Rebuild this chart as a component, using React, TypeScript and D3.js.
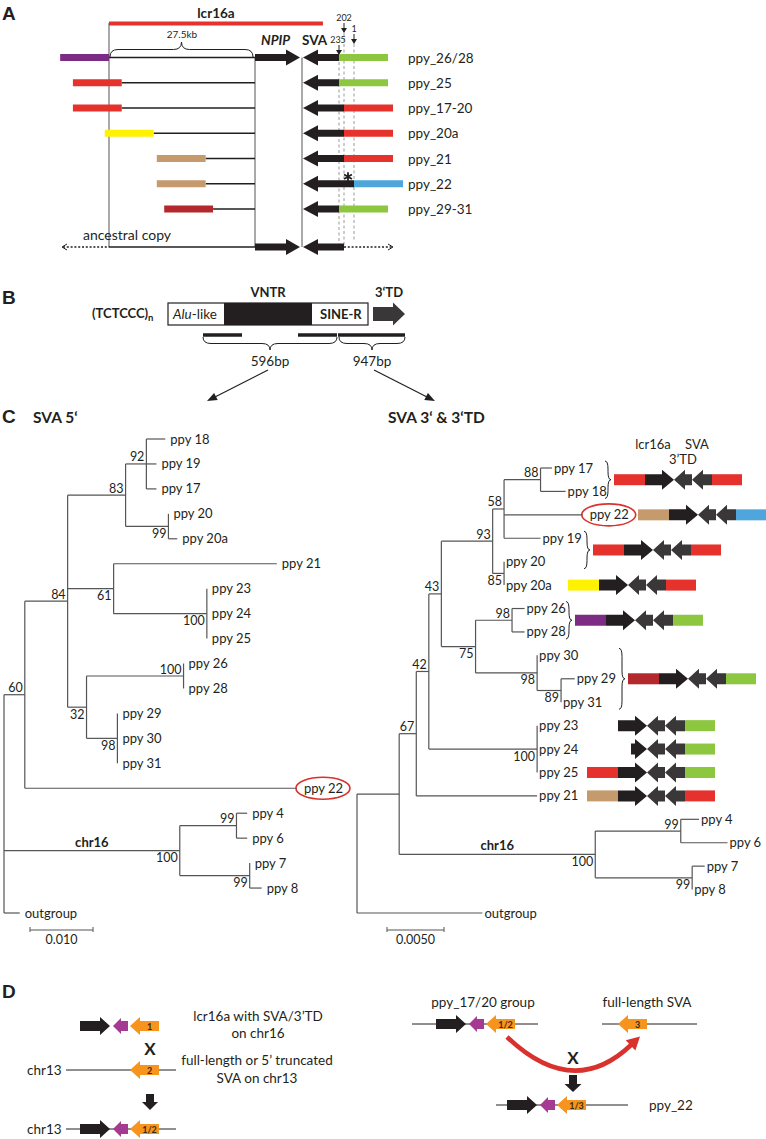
import React from 'react';
import * as d3 from 'd3';

const FONT = "Lato, 'Open Sans', sans-serif";
const LETTER_FONT = "'Liberation Sans', Arial, sans-serif";

const COLORS: Record<string, string> = {
  purple: '#7d2c85', red: '#e5322d', yellow: '#fff200', tan: '#c59b6d',
  darkred: '#b3282d', green: '#8dc63f', blue: '#4ea6dc',
};
const INK = '#231f20';
const INK2 = '#3a3738';
const MAGENTA = '#a43a91';
const ORANGE = '#f7941d';
const TREE = '#555555';
const HILITE = '#d9322e';

// ---------- Panel A data ----------
const rowLabelsA = ['ppy_26/28', 'ppy_25', 'ppy_17-20', 'ppy_20a', 'ppy_21', 'ppy_22', 'ppy_29-31'];
const flankColorsA = ['purple', 'red', 'red', 'yellow', 'tan', 'tan', 'darkred'];
const flankStartKbA = [-9.2, -6.8, -6.8, -0.8, 9.0, 9.0, 10.4];
const flankLenKbA = 9.2;
const breakpointsA = [235, 235, 202, 202, 202, 1, 235];
const tdColorsA = ['green', 'green', 'red', 'red', 'red', 'blue', 'green'];
const mutatedRowA = 'ppy_22';
const breakpointTicks = [235, 202, 1];
const lcrSpanKb = 40.3;
const npipStartKb = 27.5;

// ---------- Panel C data (trees, Newick with bootstrap supports) ----------
const leftNewick = [
  '(((((ppy 18:0.0030,ppy 19:0.0016,ppy 17:0.0016)92:0.0033,(ppy 20:0,ppy 20a:0.0014)99:0.0068)83:0.0092,',
  '(ppy 21:0.0259,(ppy 23:0,ppy 24:0,ppy 25:0)100:0.0148)61:0.0073,',
  '((ppy 26:0,ppy 28:0)100:0.0154,(ppy 29:0,ppy 30:0,ppy 31:0)98:0.0049)32:0.0030)84:0.0068,',
  'ppy 22:0.0432)60:0.0033,',
  '((ppy 4:0.0017,ppy 6:0.0017)99:0.0090,(ppy 7:0,ppy 8:0.0019)99:0.0111)100@chr16:0.0279,',
  'outgroup:0.0025);',
].join('');

const rightNewick = [
  '((((((((ppy 17:0.0010,ppy 18:0.0022)88:0.0032,ppy 22:0.0069,ppy 19:0.0032)58:0.0010,(ppy 20:0,ppy 20a:0)85:0.0010)93:0.0045,',
  '((ppy 26:0.0011,ppy 28:0.0011)98:0.0032,(ppy 30:0,(ppy 29:0.0012,ppy 31:0)89:0.0021)98:0.0054)75:0.0030)43:0.0011,',
  '(ppy 23:0,ppy 24:0,ppy 25:0)100:0.0095)42:0.0011,ppy 21:0.0106)67:0.0015,',
  '((ppy 4:0.0016,ppy 6:0.0041)99:0.0075,(ppy 7:0.0011,ppy 8:0)99:0.0085)100@chr16:0.0172):0.0037,',
  'outgroup:0.0110);',
].join('');

const highlightLeaf = 'ppy 22';
const leftScaleBar = 0.010;
const rightScaleBar = 0.0050;

// haplotype blocks next to the right tree
const blockGroups = [['ppy 17', 'ppy 18'], ['ppy 22'], ['ppy 19', 'ppy 20'], ['ppy 20a'], ['ppy 26', 'ppy 28'], ['ppy 30', 'ppy 31'], ['ppy 23'], ['ppy 24'], ['ppy 25'], ['ppy 21']];
const blockLeftColors = ['red', 'tan', 'red', 'yellow', 'purple', 'darkred', null, null, 'red', 'tan'];
const blockRightColors = ['red', 'blue', 'red', 'red', 'green', 'green', 'green', 'green', 'green', 'red'];
const blockShift = [27, 51, 6, -19, -12, 41, 0, 0, 0, 0];
const blockLcrTrunc = [0, 0, 0, 0, 0, 0, 0, 13, 0, 0];

// ---------- helpers ----------
type TNode = { name?: string; support?: string; clade?: string; len: number; children?: TNode[] };

function parseNewick(src: string): TNode {
  let i = 0;
  const s = src.trim();
  function node(): TNode {
    const kids: TNode[] = [];
    if (s[i] === '(') {
      i++;
      kids.push(node());
      while (s[i] === ',') { i++; kids.push(node()); }
      i++;
    }
    let label = '';
    while (i < s.length && ',():;'.indexOf(s[i]) < 0) label += s[i++];
    let len = 0;
    if (s[i] === ':') {
      i++;
      let num = '';
      while (i < s.length && ',();'.indexOf(s[i]) < 0) num += s[i++];
      len = parseFloat(num);
    }
    label = label.trim();
    if (kids.length) {
      const parts = label.split('@');
      return { support: parts[0] || '', clade: parts[1] || '', len, children: kids };
    }
    return { name: label, len };
  }
  return node();
}

function layoutTree(newick: string, rootX: number, pxPerUnit: number, yTop: number, yBottom: number) {
  const root = d3.hierarchy<TNode>(parseNewick(newick));
  const x = d3.scaleLinear().domain([0, 1]).range([rootX, rootX + pxPerUnit]);
  const leaves = root.leaves();
  const y = d3.scaleLinear().domain([0, leaves.length - 1]).range([yTop, yBottom]);
  const pos = new Map<any, { x: number; y: number; d: number }>();
  root.eachBefore((n: any) => {
    const d = n.parent ? pos.get(n.parent)!.d + n.data.len : 0;
    pos.set(n, { x: x(d), y: 0, d });
  });
  leaves.forEach((l, i) => { pos.get(l)!.y = y(i); });
  root.eachAfter((n: any) => {
    if (n.children) {
      const p = pos.get(n)!;
      p.y = (pos.get(n.children[0])!.y + pos.get(n.children[n.children.length - 1])!.y) / 2;
    }
  });
  return { root, pos, x, y };
}

function arrowPts(tail: number, tip: number, y: number, body: number, head: number, headLen: number) {
  const dir = tip > tail ? 1 : -1;
  const hb = tip - dir * headLen;
  return [[tail, y - body / 2], [hb, y - body / 2], [hb, y - head / 2], [tip, y], [hb, y + head / 2], [hb, y + body / 2], [tail, y + body / 2]]
    .map((p) => p.join(',')).join(' ');
}
function vArrowPts(x: number, tail: number, tip: number, body: number, head: number, headLen: number) {
  const dir = tip > tail ? 1 : -1;
  const hb = tip - dir * headLen;
  return [[x - body / 2, tail], [x - body / 2, hb], [x - head / 2, hb], [x, tip], [x + head / 2, hb], [x + body / 2, hb], [x + body / 2, tail]]
    .map((p) => p.join(',')).join(' ');
}
function hBrace(x1: number, x2: number, y: number, d: number) {
  const m = (x1 + x2) / 2, h = d / 2, r = Math.min(8, (x2 - x1) / 4);
  return `M${x1},${y} Q${x1},${y + h} ${x1 + r},${y + h} L${m - r},${y + h} Q${m},${y + h} ${m},${y + d} Q${m},${y + h} ${m + r},${y + h} L${x2 - r},${y + h} Q${x2},${y + h} ${x2},${y}`;
}
function vBrace(y1: number, y2: number, x: number, d: number) {
  const m = (y1 + y2) / 2, h = d / 2, r = Math.min(8, (y2 - y1) / 4);
  return `M${x},${y1} Q${x + h},${y1} ${x + h},${y1 + r} L${x + h},${m - r} Q${x + h},${m} ${x + d},${m} Q${x + h},${m} ${x + h},${m + r} L${x + h},${y2 - r} Q${x + h},${y2} ${x},${y2}`;
}
function headAt(x1: number, y1: number, x2: number, y2: number, len: number, w: number) {
  const dx = x2 - x1, dy = y2 - y1, L = Math.hypot(dx, dy);
  const ux = dx / L, uy = dy / L;
  const bx = x2 - ux * len, by = y2 - uy * len;
  return [[x2, y2], [bx - uy * w, by + ux * w], [bx + uy * w, by - ux * w]].map((p) => p.join(',')).join(' ');
}
function asteriskPath(cx: number, cy: number, r: number) {
  return [0, 60, 120].map((deg) => {
    const a = (deg * Math.PI) / 180 + Math.PI / 2;
    const dx = Math.cos(a) * r, dy = Math.sin(a) * r;
    return `M${cx - dx},${cy - dy} L${cx + dx},${cy + dy}`;
  }).join(' ');
}

function TreeView({ t, leafOffset }: { t: any; leafOffset: number }) {
  const { root, pos } = t;
  const els: any[] = [];
  root.descendants().forEach((n: any, k: number) => {
    const p = pos.get(n);
    if (n.parent) {
      const pp = pos.get(n.parent);
      els.push(<line key={'h' + k} x1={pp.x} x2={p.x} y1={p.y} y2={p.y} stroke={TREE} strokeWidth={1.2} />);
    }
    if (n.children) {
      const a = pos.get(n.children[0]), b = pos.get(n.children[n.children.length - 1]);
      els.push(<line key={'v' + k} x1={p.x} x2={p.x} y1={a.y} y2={b.y} stroke={TREE} strokeWidth={1.2} />);
      if (n.parent && n.data.support) {
        const first = n.parent.children[0] === n;
        els.push(<text key={'s' + k} x={p.x - 2} y={first ? p.y - 2.5 : p.y + 11.5} textAnchor="end" fontSize={12.5} fill={INK}>{n.data.support}</text>);
      }
      if (n.parent && n.data.clade) {
        const pp = pos.get(n.parent);
        els.push(<text key={'c' + k} x={(pp.x + p.x) / 2} y={p.y - 4} textAnchor="middle" fontSize={13} fontWeight="bold" fill={INK}>{n.data.clade}</text>);
      }
    } else {
      const isH = n.data.name === highlightLeaf;
      if (isH) els.push(<ellipse key={'e' + k} cx={p.x + 26} cy={p.y} rx={27} ry={11} fill="none" stroke={HILITE} strokeWidth={1.6} />);
      els.push(<text key={'l' + k} x={p.x + (isH ? 7 : leafOffset)} y={p.y + 4.5} fontSize={13} fill={INK}>{n.data.name}</text>);
    }
  });
  return <g>{els}</g>;
}

function ScaleBar({ x0, y, t, value, label }: any) {
  const w = t.x(value) - t.x(0);
  return (
    <g stroke={TREE} strokeWidth={1}>
      <line x1={x0} x2={x0 + w} y1={y} y2={y} />
      <line x1={x0} x2={x0} y1={y - 3} y2={y + 2} />
      <line x1={x0 + w} x2={x0 + w} y1={y - 3} y2={y + 2} />
      <text x={x0 + w / 2} y={y + 14} textAnchor="middle" fontSize={12.5} fill={INK} stroke="none">{label}</text>
    </g>
  );
}

export default function App() {
  // ---------- Panel A ----------
  const aX = d3.scaleLinear().domain([0, npipStartKb]).range([109, 255]);
  const aBp = d3.scaleLinear().domain([235, 202, 1]).range([339, 344, 354]);
  const aY = d3.scaleLinear().domain([0, rowLabelsA.length - 1]).range([57.5, 209]);
  const ancY = 247;
  const npipTip = aX(npipStartKb) + 45;
  const svaTip = 303;
  const tdLen = 49;
  const mutY = aY(rowLabelsA.indexOf(mutatedRowA));

  const left = layoutTree(leftNewick, 4, 6300, 439, 913);
  const right = layoutTree(rightNewick, 357, 11400, 468, 913);
  const rightLeafY = (nm: string) => {
    const l = right.root.leaves().find((q: any) => q.data.name === nm);
    return right.pos.get(l)!.y;
  };

  const dStack = (tailBlack: number, y: number, label: string, withBlack = true) => (
    <g>
      {withBlack && <polygon points={arrowPts(tailBlack, tailBlack + 30, y, 10, 18, 10)} fill={INK} />}
      {withBlack && <polygon points={arrowPts(tailBlack + 48, tailBlack + 33, y, 10, 16, 8)} fill={MAGENTA} />}
      <polygon points={arrowPts(tailBlack + 79, tailBlack + 50, y, 10, 18, 10)} fill={ORANGE} />
      <text x={tailBlack + 69.5} y={y + 3.5} textAnchor="middle" fontSize={9} fontWeight="bold" fill="#3b2a12">{label}</text>
    </g>
  );

  // curved recombination arrow
  const cStart: [number, number] = [507, 1037], cCtrl: [number, number] = [573, 1100], cEnd: [number, number] = [631, 1045];

  return (
    <div style={{ position: 'absolute', left: 0, top: 0, width: 766, height: 1139, background: '#fff' }}>
      <svg width={766} height={1139} viewBox="0 0 766 1139" style={{ display: 'block' }} fontFamily={FONT}>
        {/* ===================== A ===================== */}
        <text x={2} y={20} fontFamily={LETTER_FONT} fontWeight="bold" fontSize={19} fill={INK}>A</text>
        <line x1={aX(0)} x2={aX(lcrSpanKb)} y1={23.5} y2={23.5} stroke={COLORS.red} strokeWidth={4} />
        <text x={(aX(0) + aX(lcrSpanKb)) / 2} y={18} textAnchor="middle" fontSize={13.5} fontWeight="bold" fill={INK}>lcr16a</text>
        <line x1={aX(0)} x2={aX(0)} y1={23} y2={ancY} stroke="#555" strokeWidth={1} />
        <line x1={aX(npipStartKb)} x2={aX(npipStartKb)} y1={aY(0)} y2={ancY} stroke="#555" strokeWidth={1} />
        <line x1={302} x2={302} y1={aY(0)} y2={ancY} stroke="#555" strokeWidth={1} />
        <path d={hBrace(aX(0) + 1, aX(npipStartKb) - 2, 57, -15)} fill="none" stroke={INK} strokeWidth={1} />
        <text x={(aX(0) + aX(npipStartKb)) / 2} y={38} textAnchor="middle" fontSize={10} fill={INK}>27.5kb</text>
        <text x={261} y={45} fontSize={13.5} fontWeight="bold" fontStyle="italic" fill={INK}>NPIP</text>
        <text x={302} y={45} fontSize={13.5} fontWeight="bold" fill={INK}>SVA</text>

        {/* breakpoint dashed guides */}
        {breakpointTicks.map((bp, i) => (
          <line key={'dg' + i} x1={aBp(bp)} x2={aBp(bp)} y1={[62, 33, 44][i]} y2={i === 2 ? 240 : ancY}
            stroke="#9a9a9a" strokeWidth={1} strokeDasharray="3,2.5" />
        ))}
        {breakpointTicks.map((bp, i) => {
          const ty = [43, 21, 32][i];
          return (
            <g key={'bt' + i}>
              <text x={aBp(bp) - (i === 0 ? 1 : 0)} y={ty} textAnchor="middle" fontSize={9} fill={INK}>{bp}</text>
              <line x1={aBp(bp)} x2={aBp(bp)} y1={ty + 2} y2={ty + 10} stroke={INK} strokeWidth={1} />
              <polygon points={`${aBp(bp) - 3},${ty + 7} ${aBp(bp) + 3},${ty + 7} ${aBp(bp)},${ty + 12}`} fill={INK} />
            </g>
          );
        })}

        {rowLabelsA.map((lab, i) => {
          const y = aY(i);
          const fx0 = aX(flankStartKbA[i]);
          const fx1 = aX(flankStartKbA[i] + flankLenKbA);
          const bx = aBp(breakpointsA[i]);
          return (
            <g key={'ra' + i}>
              <line x1={fx1} x2={aX(npipStartKb)} y1={y} y2={y} stroke={INK} strokeWidth={1.5} />
              <rect x={fx0} y={y - 3.5} width={fx1 - fx0} height={7} fill={COLORS[flankColorsA[i]]} />
              {i === 0 && <polygon points={arrowPts(aX(npipStartKb), npipTip, y, 7, 16, 14)} fill={INK} />}
              <polygon points={arrowPts(bx, svaTip, y, 7, 16, 15)} fill={INK} />
              <rect x={bx} y={y - 3.5} width={tdLen} height={7} fill={COLORS[tdColorsA[i]]} />
              <text x={408} y={y + 5} fontSize={13.5} fill={INK}>{lab}</text>
            </g>
          );
        })}
        <path d={asteriskPath(aBp(202) + 4, mutY - 7, 4.5)} stroke={INK} strokeWidth={1.8} fill="none" />

        {/* ancestral copy */}
        <line x1={aX(0)} x2={aX(npipStartKb)} y1={ancY} y2={ancY} stroke={INK} strokeWidth={1.5} />
        <line x1={63} x2={aX(0)} y1={ancY} y2={ancY} stroke={INK} strokeWidth={1.5} strokeDasharray="2,1.8" />
        <polyline points={`67,${ancY - 3} 62,${ancY} 67,${ancY + 3}`} fill="none" stroke={INK} strokeWidth={1} />
        <polygon points={arrowPts(aX(npipStartKb), npipTip, ancY, 7, 16, 14)} fill={INK} />
        <polygon points={arrowPts(aBp(202), svaTip, ancY, 7, 16, 15)} fill={INK} />
        <line x1={aBp(202)} x2={392} y1={ancY} y2={ancY} stroke={INK} strokeWidth={1.5} strokeDasharray="2,1.8" />
        <polyline points={`388,${ancY - 3} 393,${ancY} 388,${ancY + 3}`} fill="none" stroke={INK} strokeWidth={1} />
        <text x={83} y={240} fontSize={14} fill={INK}>ancestral copy</text>

        {/* ===================== B ===================== */}
        <text x={2} y={304} fontFamily={LETTER_FONT} fontWeight="bold" fontSize={19} fill={INK}>B</text>
        <text x={268} y={297} textAnchor="middle" fontSize={13} fontWeight="bold" fill={INK}>VNTR</text>
        <text x={389} y={297} textAnchor="middle" fontSize={13} fontWeight="bold" fill={INK}>3‘TD</text>
        <text x={92} y={318} fontSize={13} fontWeight="bold" fill={INK}>(TCTCCC)<tspan dy={3} fontSize={9.5}>n</tspan></text>
        <rect x={168} y={303} width={200} height={22} fill="#fff" stroke={INK} strokeWidth={1.2} />
        <rect x={224} y={303} width={88} height={22} fill={INK} />
        <text x={173} y={318.5} fontSize={13.5} fill={INK}><tspan fontStyle="italic">Alu</tspan>-like</text>
        <text x={320} y={318.5} fontSize={13} fontWeight="bold" fill={INK}>SINE-R</text>
        <polygon points={arrowPts(373, 405, 314, 14, 23, 12)} fill={INK2} />
        <line x1={203} x2={242} y1={335} y2={335} stroke={INK} strokeWidth={3.5} />
        <line x1={298} x2={337} y1={335} y2={335} stroke={INK} strokeWidth={3.5} />
        <line x1={338} x2={405} y1={335} y2={335} stroke={INK} strokeWidth={3.5} />
        <path d={hBrace(203, 337, 337, 13)} fill="none" stroke={INK} strokeWidth={1} />
        <path d={hBrace(339, 405, 337, 13)} fill="none" stroke={INK} strokeWidth={1} />
        <text x={270} y={366} textAnchor="middle" fontSize={13.5} fill={INK}>596bp</text>
        <text x={372} y={366} textAnchor="middle" fontSize={13.5} fill={INK}>947bp</text>
        <line x1={268} y1={370} x2={213} y2={398} stroke={INK} strokeWidth={1.2} />
        <polygon points={headAt(268, 370, 207, 401, 10, 4)} fill={INK} />
        <line x1={374} y1={370} x2={429} y2={398} stroke={INK} strokeWidth={1.2} />
        <polygon points={headAt(374, 370, 435, 401, 10, 4)} fill={INK} />

        {/* ===================== C ===================== */}
        <text x={2} y={423} fontFamily={LETTER_FONT} fontWeight="bold" fontSize={19} fill={INK}>C</text>
        <text x={33} y={423} fontSize={15.5} fontWeight="bold" fill={INK}>SVA 5‘</text>
        <text x={388} y={423} fontSize={15.5} fontWeight="bold" fill={INK}>SVA 3‘ &amp; 3‘TD</text>

        <TreeView t={left} leafOffset={5} />
        <TreeView t={right} leafOffset={2} />
        <ScaleBar x0={30} y={930} t={left} value={leftScaleBar} label="0.010" />
        <ScaleBar x0={387} y={930} t={right} value={rightScaleBar} label="0.0050" />

        {/* block headers */}
        <text x={653} y={449} textAnchor="middle" fontSize={13} fill={INK}>lcr16a</text>
        <text x={697} y={449} textAnchor="middle" fontSize={13} fill={INK}>SVA</text>
        <text x={683} y={464} textAnchor="middle" fontSize={13} fill={INK}>3’TD</text>

        {blockGroups.map((g, i) => {
          const ys = g.map(rightLeafY);
          const y = d3.mean(ys)!;
          const x = 587 + blockShift[i];
          const lc = blockLeftColors[i];
          return (
            <g key={'bk' + i}>
              {g.length > 1 && <path d={vBrace(d3.min(ys)! - 7, d3.max(ys)! + 7, x - 9, 6)} fill="none" stroke={INK} strokeWidth={1} />}
              {lc && <rect x={x} y={y - 5.5} width={31} height={11} fill={COLORS[lc]} />}
              <polygon points={arrowPts(x + 31 + blockLcrTrunc[i], x + 60, y, 11, 20, 12)} fill={INK} />
              <polygon points={arrowPts(x + 78, x + 60, y, 11, 20, 11)} fill={INK2} />
              <polygon points={arrowPts(x + 98, x + 78, y, 11, 20, 11)} fill={INK2} />
              <rect x={x + 98} y={y - 5.5} width={30} height={11} fill={COLORS[blockRightColors[i]]} />
            </g>
          );
        })}

        {/* ===================== D ===================== */}
        <text x={2} y={998} fontFamily={LETTER_FONT} fontWeight="bold" fontSize={19} fill={INK}>D</text>
        {/* left scenario */}
        {dStack(80, 1026, '1')}
        <text x={150} y={1055} textAnchor="middle" fontSize={17} fontWeight="bold" fill={INK}>X</text>
        <text x={27} y={1075} fontSize={13.5} fill={INK}>chr13</text>
        <line x1={66} x2={176} y1={1070} y2={1070} stroke={INK} strokeWidth={1} />
        {dStack(80, 1070, '2', false)}
        <polygon points={vArrowPts(150, 1094, 1110, 8, 16, 8)} fill={INK} />
        <text x={27} y={1134} fontSize={13.5} fill={INK}>chr13</text>
        <line x1={66} x2={176} y1={1129} y2={1129} stroke={INK} strokeWidth={1} />
        {dStack(80, 1129, '1/2')}
        <text x={258} y={1021} textAnchor="middle" fontSize={13.5} fill={INK}>lcr16a with SVA/3’TD</text>
        <text x={258} y={1038} textAnchor="middle" fontSize={13.5} fill={INK}>on chr16</text>
        <text x={257} y={1065} textAnchor="middle" fontSize={13.5} fill={INK}>full-length or 5’ truncated</text>
        <text x={257} y={1083} textAnchor="middle" fontSize={13.5} fill={INK}>SVA on chr13</text>

        {/* right scenario */}
        <text x={483} y={1007} textAnchor="middle" fontSize={13.5} fill={INK}>ppy_17/20 group</text>
        <line x1={412} x2={538} y1={1024} y2={1024} stroke={INK} strokeWidth={1} />
        {dStack(436, 1024, '1/2')}
        <text x={647} y={1007} textAnchor="middle" fontSize={13.5} fill={INK}>full-length SVA</text>
        <line x1={602} x2={697} y1={1024} y2={1024} stroke={INK} strokeWidth={1} />
        {dStack(568, 1024, '3', false)}
        <path d={`M${cStart[0]},${cStart[1]} Q${cCtrl[0]},${cCtrl[1]} ${cEnd[0]},${cEnd[1]}`} fill="none" stroke={HILITE} strokeWidth={4.5} />
        <polygon points={headAt(cCtrl[0], cCtrl[1], cEnd[0] + 9, cEnd[1] - 8.5, 13, 7)} fill={HILITE} />
        <text x={573} y={1064} textAnchor="middle" fontSize={17} fontWeight="bold" fill={INK}>X</text>
        <polygon points={vArrowPts(573, 1075, 1092, 8, 17, 8)} fill={INK} />
        <line x1={496} x2={628} y1={1105} y2={1105} stroke={INK} strokeWidth={1} />
        {dStack(507, 1105, '1/3')}
        <text x={649} y={1110} fontSize={13.5} fill={INK}>ppy_22</text>
      </svg>
    </div>
  );
}
